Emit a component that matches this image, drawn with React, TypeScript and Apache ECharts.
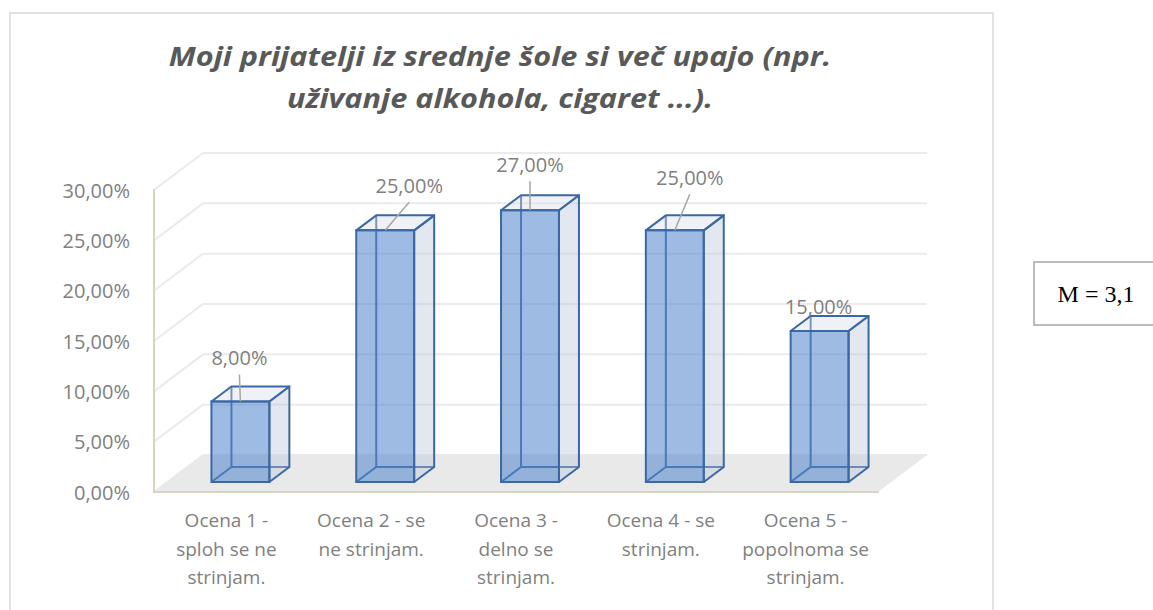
import React, { useEffect, useRef } from "react";
import * as echarts from "echarts";

const titleLines = [
  "Moji prijatelji iz srednje šole si več upajo (npr.",
  "uživanje alkohola, cigaret ...).",
];
const categories = [
  "Ocena 1 -\nsploh se ne\nstrinjam.",
  "Ocena 2 - se\nne strinjam.",
  "Ocena 3 -\ndelno se\nstrinjam.",
  "Ocena 4 - se\nstrinjam.",
  "Ocena 5 -\npopolnoma se\nstrinjam.",
];
const values = [0.08, 0.25, 0.27, 0.25, 0.15];
const yTicks = [0, 0.05, 0.1, 0.15, 0.2, 0.25, 0.3];
const meanLabel = "M = 3,1";

// layout (not data): label offsets relative to bar's front-top centre
const labelOffsets = [
  [-1, -44],
  [24, -45],
  [0, -46],
  [15, -53],
  [-1, -25],
];

const WALL_DX = 49;
const WALL_DY = -37;
const BAR_FX = 14;
const BAR_FY = -10;
const BAR_DX = 20;
const BAR_DY = -15;
const BAR_RATIO = 0.4;

const fmt = (v: number) => (v * 100).toFixed(2).replace(".", ",") + "%";
const SANS = '"Open Sans", "Noto Sans", sans-serif';

export default function App() {
  const ref = useRef<HTMLDivElement>(null);
  useEffect(() => {
    if (!ref.current) return;
    const chart = echarts.init(ref.current, undefined, { renderer: "svg" });

    const option: any = {
      animation: false,
      backgroundColor: "#ffffff",
      grid: { left: 154, right: 275, top: 190, bottom: 118 },
      xAxis: {
        type: "category",
        data: categories,
        z: 5,
        axisLine: { show: true, lineStyle: { color: "#d8d3bf", width: 2 } },
        axisTick: { show: false },
        axisLabel: {
          interval: 0,
          color: "#7f7f7f",
          fontFamily: SANS,
          fontSize: 19,
          lineHeight: 28.5,
          margin: 14,
        },
      },
      yAxis: {
        type: "value",
        min: 0,
        max: 0.3,
        interval: 0.05,
        z: 5,
        axisLine: { show: true, lineStyle: { color: "#d8d3bf", width: 2 } },
        axisTick: { show: false },
        splitLine: { show: false },
        axisLabel: {
          formatter: fmt,
          color: "#7f7f7f",
          fontFamily: SANS,
          fontSize: 20,
          margin: 24,
        },
      },
      graphic: [
        {
          type: "rect",
          shape: { x: 10, y: 13, width: 983, height: 620 },
          style: { fill: "none", stroke: "#d9d9d9", lineWidth: 1.5 },
          silent: true,
        },
        ...titleLines.map((t, i) => ({
          type: "text",
          x: 500,
          y: 56 + i * 42,
          scaleX: 1.18,
          style: {
            text: t,
            fill: "#595959",
            font: `italic bold 26px ${SANS}`,
            align: "center",
            verticalAlign: "middle",
          },
        })),
        {
          type: "rect",
          shape: { x: 1034, y: 262, width: 130, height: 63 },
          style: { fill: "#ffffff", stroke: "#a6a6a6", lineWidth: 1.5 },
        },
        {
          type: "text",
          x: 1096,
          y: 294,
          style: {
            text: meanLabel,
            fill: "#000000",
            font: '24px "Liberation Serif", "DejaVu Serif", serif',
            align: "center",
            verticalAlign: "middle",
          },
        },
      ],
      series: [
        {
          type: "custom",
          name: "walls",
          silent: true,
          z: 1,
          data: yTicks.map((v) => [0, v]),
          renderItem: (params: any, api: any) => {
            const cs = params.coordSys;
            const y = api.coord([0, api.value(1)])[1];
            const left = cs.x;
            const right = cs.x + cs.width;
            const st = { stroke: "#ebebeb", lineWidth: 2, fill: null };
            return {
              type: "group",
              children: [
                {
                  type: "line",
                  shape: { x1: left, y1: y, x2: left + WALL_DX, y2: y + WALL_DY },
                  style: st,
                },
                {
                  type: "line",
                  shape: {
                    x1: left + WALL_DX,
                    y1: y + WALL_DY,
                    x2: right + WALL_DX,
                    y2: y + WALL_DY,
                  },
                  style: st,
                },
              ],
            };
          },
        },
        {
          type: "custom",
          name: "floor",
          silent: true,
          z: 2,
          data: [[0, 0]],
          renderItem: (params: any, api: any) => {
            const cs = params.coordSys;
            const y0 = api.coord([0, 0])[1];
            const left = cs.x;
            const right = cs.x + cs.width;
            return {
              type: "polygon",
              shape: {
                points: [
                  [left, y0],
                  [right, y0],
                  [right + WALL_DX, y0 + WALL_DY],
                  [left + WALL_DX, y0 + WALL_DY],
                ],
              },
              style: { fill: "#e9e9e9" },
            };
          },
        },
        {
          type: "custom",
          name: "bars",
          z: 3,
          data: values.map((v, i) => [i, v]),
          renderItem: (params: any, api: any) => {
            const i = api.value(0);
            const v = api.value(1);
            const top = api.coord([i, v]);
            const base = api.coord([i, 0]);
            const half = (api.size([1, 0])[0] * BAR_RATIO) / 2;
            const cx = top[0] + BAR_FX;
            const x0 = cx - half;
            const x1 = cx + half;
            const yT = top[1] + BAR_FY;
            const yB = base[1] + BAR_FY;
            const edge = "#3a68a4";
            const off = labelOffsets[params.dataIndex];
            const lx = cx + off[0];
            const ly = yT + off[1];
            const children: any[] = [
              {
                type: "polyline",
                shape: {
                  points: [
                    [x0, yB],
                    [x0 + BAR_DX, yB + BAR_DY],
                    [x1 + BAR_DX, yB + BAR_DY],
                  ],
                },
                style: { stroke: edge, lineWidth: 2, fill: null },
              },
              {
                type: "line",
                shape: {
                  x1: x0 + BAR_DX,
                  y1: yB + BAR_DY,
                  x2: x0 + BAR_DX,
                  y2: yT + BAR_DY,
                },
                style: { stroke: edge, lineWidth: 2 },
              },
              {
                type: "polygon",
                shape: {
                  points: [
                    [x1, yT],
                    [x1 + BAR_DX, yT + BAR_DY],
                    [x1 + BAR_DX, yB + BAR_DY],
                    [x1, yB],
                  ],
                },
                style: {
                  fill: "rgba(185,196,214,0.4)",
                  stroke: edge,
                  lineWidth: 2,
                  lineJoin: "round",
                },
              },
              {
                type: "polygon",
                shape: {
                  points: [
                    [x0, yT],
                    [x0 + BAR_DX, yT + BAR_DY],
                    [x1 + BAR_DX, yT + BAR_DY],
                    [x1, yT],
                  ],
                },
                style: {
                  fill: "rgba(214,220,234,0.4)",
                  stroke: edge,
                  lineWidth: 2,
                  lineJoin: "round",
                },
              },
              {
                type: "rect",
                shape: { x: x0, y: yT, width: x1 - x0, height: yB - yT },
                style: {
                  fill: "rgba(82,135,205,0.56)",
                  stroke: edge,
                  lineWidth: 2,
                },
              },
            ];
            if (off[1] < -35) {
              children.push({
                type: "line",
                shape: { x1: lx, y1: ly + 17, x2: cx, y2: yT },
                style: { stroke: "#a6a6a6", lineWidth: 1.5 },
              });
            }
            children.push({
              type: "text",
              x: lx,
              y: ly,
              style: {
                text: fmt(v),
                fill: "#7f7f7f",
                font: `20px ${SANS}`,
                align: "center",
                verticalAlign: "middle",
              },
            });
            return { type: "group", children };
          },
        },
      ],
    };

    chart.setOption(option);
    return () => chart.dispose();
  }, []);

  return (
    <div
      ref={ref}
      style={{ position: "fixed", left: 0, top: 0, width: 1153, height: 610 }}
    />
  );
}
